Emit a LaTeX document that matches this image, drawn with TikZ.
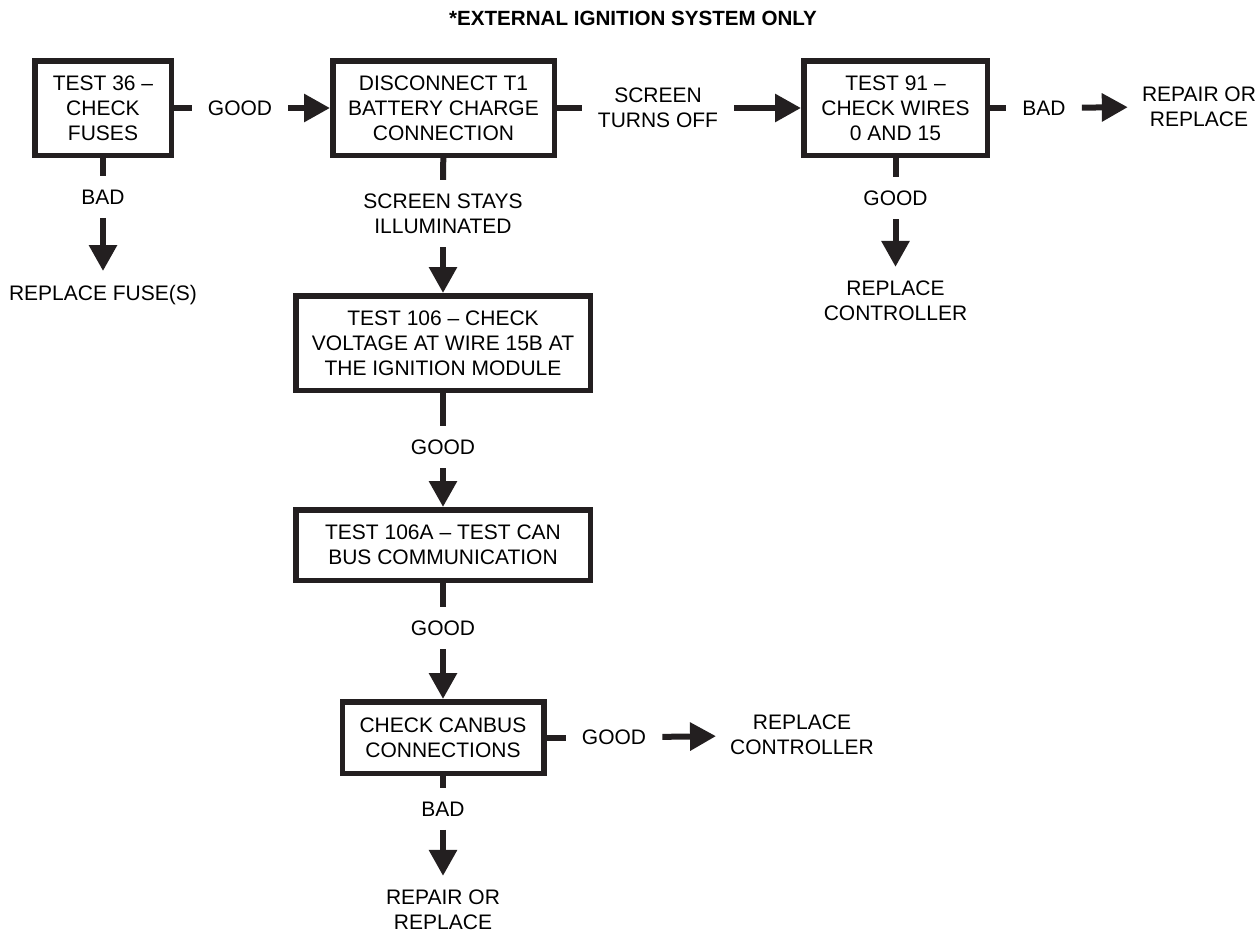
\documentclass[tikz,border=0pt]{standalone}
\usepackage{fontspec}
\setmainfont{Liberation Sans}
\usetikzlibrary{arrows.meta}
\definecolor{ink}{HTML}{231F20}
\newcommand{\txt}{\fontsize{21}{25}\selectfont}
\tikzset{
  box/.style={draw=ink, line width=5.5pt, align=center, inner sep=0pt, font=\txt},
  lbl/.style={align=center, inner xsep=16pt, inner ysep=13.5pt, font=\txt},
  result/.style={align=center, inner sep=14pt, font=\txt},
  link/.style={ink, line width=6pt},
  flow/.style={link, -{Triangle[length=26pt,width=27pt]}},
}

\begin{document}
\begin{tikzpicture}[x=1pt,y=-1pt]
  \useasboundingbox (0,0) rectangle (1260,937);
  \node[font=\fontsize{20.6}{25}\selectfont\bfseries] (title) at (633,18) {*EXTERNAL IGNITION SYSTEM ONLY};

  % test boxes
  \node[box, minimum width=136.5pt, minimum height=94.5pt] (fuses) at (103,108) {TEST 36 \textendash\\CHECK\\FUSES};
  \node[box, minimum width=221.5pt, minimum height=94.5pt] (disconnect) at (443.5,108) {DISCONNECT T1\\BATTERY CHARGE\\CONNECTION};
  \node[box, minimum width=183.5pt, minimum height=94.5pt] (wires) at (895.5,108) {TEST 91 \textendash\\CHECK WIRES\\0 AND 15};
  \node[box, minimum width=294.5pt, minimum height=94.5pt] (voltage) at (443,343) {TEST 106 \textendash{} CHECK\\VOLTAGE AT WIRE 15B AT\\THE IGNITION MODULE};
  \node[box, minimum width=294.5pt, minimum height=70.5pt] (canTest) at (443,545) {TEST 106A \textendash{} TEST CAN\\BUS COMMUNICATION};
  \node[box, minimum width=201.5pt, minimum height=71.5pt] (canbus) at (443,737.5) {CHECK CANBUS\\CONNECTIONS};

  % labels on the links
  \node[lbl] (fusesGood) at (240,108) {GOOD};
  \node[lbl] (fusesBad) at (103,197) {BAD};
  \node[lbl] (turnsOff) at (658,108) {SCREEN\\TURNS OFF};
  \node[lbl] (stays) at (443,213.5) {SCREEN STAYS\\ILLUMINATED};
  \node[lbl] (wiresBad) at (1044,108) {BAD};
  \node[lbl] (wiresGood) at (895.5,198) {GOOD};
  \node[lbl] (voltGood) at (443,447) {GOOD};
  \node[lbl] (canGood) at (443,628) {GOOD};
  \node[lbl] (busGood) at (614,737.5) {GOOD};
  \node[lbl] (busBad) at (443,809) {BAD};

  % outcomes
  \node[result] (replFuse) at (103,295) {REPLACE FUSE(S)};
  \node[result] (wiresRepair) at (1199,106.5) {REPAIR OR\\REPLACE};
  \node[result] (wiresRepl) at (895.5,301) {REPLACE\\CONTROLLER};
  \node[result] (busRepl) at (802,735) {REPLACE\\CONTROLLER};
  \node[result] (busRepair) at (443,910) {REPAIR OR\\REPLACE};

  \draw[link] (fuses) -- (fusesGood);
  \draw[flow] (fusesGood) -- (disconnect);
  \draw[link] (fuses) -- (fusesBad);
  \draw[flow] (fusesBad) -- (replFuse);

  \draw[link] (disconnect) -- (turnsOff);
  \draw[flow] (turnsOff) -- (wires);
  \draw[link] (disconnect) -- (stays);
  \draw[flow] (stays) -- (voltage);

  \draw[link] (wires) -- (wiresBad);
  \draw[flow] (wiresBad) -- (wiresRepair);
  \draw[link] (wires) -- (wiresGood);
  \draw[flow] (wiresGood) -- (wiresRepl);

  \draw[link] (voltage) -- (voltGood);
  \draw[flow] (voltGood) -- (canTest);
  \draw[link] (canTest) -- (canGood);
  \draw[flow] (canGood) -- (canbus);

  \draw[link] (canbus) -- (busGood);
  \draw[flow] (busGood) -- (busRepl);
  \draw[link] (canbus) -- (busBad);
  \draw[flow] (busBad) -- (busRepair);
\end{tikzpicture}
\end{document}
